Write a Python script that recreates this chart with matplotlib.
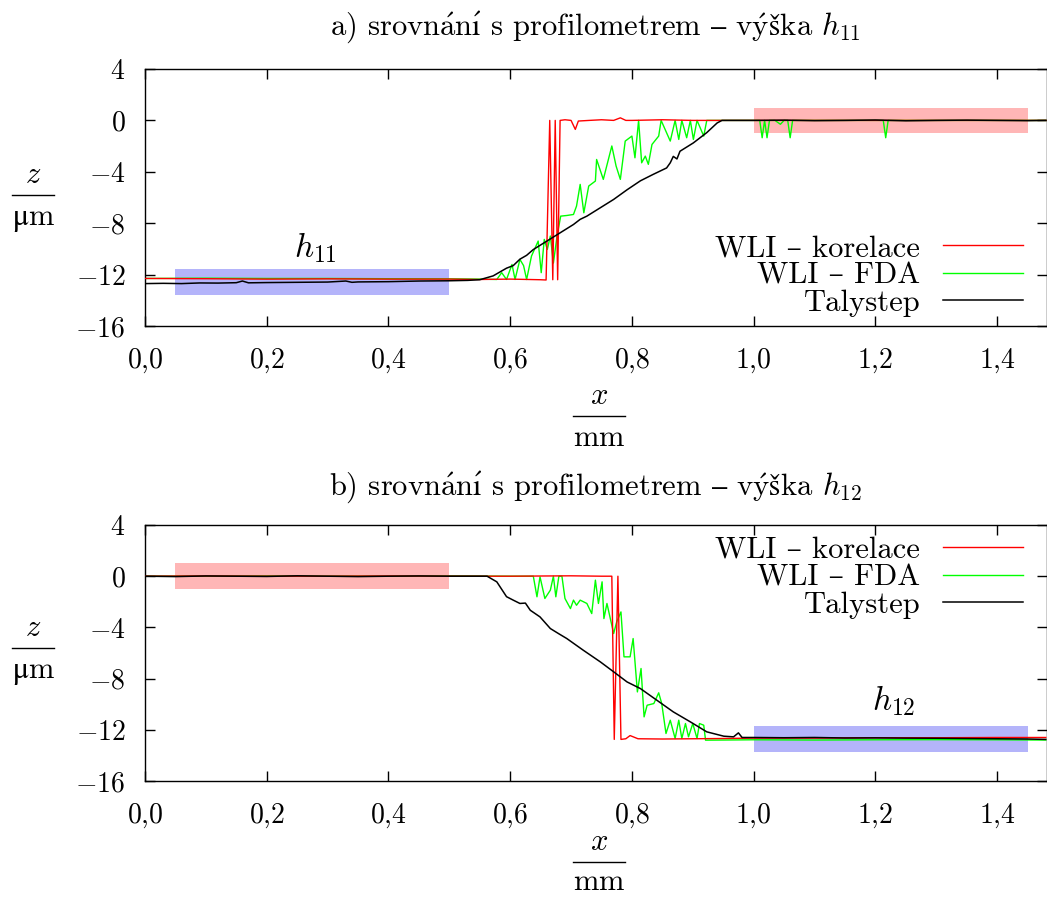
import numpy as np
import matplotlib
matplotlib.use('Agg')
import matplotlib.pyplot as plt
from matplotlib.lines import Line2D

plt.rcParams['font.family'] = ['cmr10', 'DejaVu Serif']
plt.rcParams['mathtext.fontset'] = 'cm'
plt.rcParams['axes.unicode_minus'] = False

# ---- data, a) vyska h11 ----
xa_taly = [0.0, 0.03, 0.06, 0.09, 0.12, 0.15, 0.16, 0.17, 0.2, 0.25, 0.3, 0.33, 0.34, 0.35,
           0.4, 0.45, 0.5, 0.53, 0.55, 0.572, 0.594, 0.605, 0.616, 0.627, 0.638, 0.66, 0.682,
           0.704, 0.715, 0.726, 0.748, 0.77, 0.792, 0.814, 0.835, 0.857, 0.863, 0.868, 0.874,
           0.879, 0.901, 0.923, 0.94, 0.948, 1.0, 1.05, 1.1, 1.15, 1.2, 1.25, 1.3, 1.35, 1.4,
           1.45, 1.48]
za_taly = [-12.7, -12.68, -12.7, -12.65, -12.66, -12.63, -12.5, -12.64, -12.62, -12.6, -12.58,
           -12.5, -12.6, -12.57, -12.55, -12.5, -12.48, -12.45, -12.4, -12.1, -11.5, -11.3,
           -10.8, -10.5, -10.05, -9.4, -8.75, -8.1, -7.7, -7.45, -6.8, -6.15, -5.4, -4.7, -4.2,
           -3.7, -3.3, -2.8, -3.0, -2.4, -1.75, -0.95, -0.2, 0.0, 0.0, 0.02, -0.02, 0.0, 0.03,
           -0.03, 0.0, 0.02, 0.0, -0.02, 0.0]

xa_kor = [0.0, 0.1, 0.2, 0.3, 0.4, 0.5, 0.55, 0.6, 0.65, 0.659, 0.665, 0.670, 0.674, 0.678,
          0.682, 0.69, 0.70, 0.707, 0.712, 0.73, 0.75, 0.77, 0.781, 0.79, 0.8, 0.85, 0.9, 0.95,
          1.0, 1.1, 1.2, 1.3, 1.4, 1.48]
za_kor = [-12.3, -12.32, -12.35, -12.33, -12.35, -12.35, -12.38, -12.35, -12.4, -12.42, 0.0,
          -12.4, 0.0, -12.4, 0.0, 0.05, 0.0, -0.7, -0.05, 0.0, 0.05, 0.0, 0.2, 0.0, 0.0, 0.05,
          0.0, 0.0, 0.0, 0.0, 0.0, 0.0, 0.0, 0.0]

xa_fda = [0.0, 0.1, 0.2, 0.3, 0.4, 0.5, 0.55, 0.578, 0.586, 0.594, 0.603, 0.608, 0.616, 0.622,
          0.627, 0.635, 0.646, 0.651, 0.656, 0.661, 0.666, 0.671, 0.677, 0.683, 0.693, 0.704,
          0.709, 0.715, 0.721, 0.729, 0.740, 0.742, 0.753, 0.767, 0.774, 0.781, 0.789, 0.800,
          0.805, 0.811, 0.816, 0.822, 0.827, 0.833, 0.844, 0.848, 0.863, 0.871, 0.877, 0.882,
          0.890, 0.896, 0.901, 0.907, 0.918, 0.923, 0.95, 1.0, 1.01, 1.014, 1.018, 1.022, 1.026,
          1.035, 1.044, 1.05, 1.056, 1.06, 1.064, 1.1, 1.15, 1.2, 1.213, 1.217, 1.221, 1.3,
          1.4, 1.48]
za_fda = [-12.3, -12.28, -12.3, -12.3, -12.32, -12.33, -12.35, -12.38, -11.85, -12.38, -11.21,
          -12.38, -10.82, -11.3, -12.38, -10.56, -9.39, -11.85, -9.26, -10.04, -9.0, -11.1,
          -9.0, -7.45, -7.4, -7.32, -6.67, -4.98, -7.19, -5.11, -4.72, -3.04, -4.59, -1.99,
          -3.55, -4.59, -1.61, -1.22, -2.91, 0.0, -3.3, -2.78, -3.42, -1.87, -1.22, 0.0, -1.61,
          0.0, -1.48, 0.0, -1.35, 0.0, -1.48, 0.0, -1.22, 0.0, 0.0, 0.0, 0.0, -1.35, 0.0, -1.35,
          0.0, 0.0, -0.3, 0.0, 0.0, -1.35, 0.0, 0.0, 0.0, 0.0, 0.0, -1.35, 0.0, 0.0, 0.0, 0.0]

# ---- data, b) vyska h12 ----
xb_taly = [0.0, 0.05, 0.1, 0.15, 0.2, 0.25, 0.3, 0.35, 0.4, 0.45, 0.5, 0.54, 0.562, 0.578,
           0.594, 0.605, 0.616, 0.625, 0.633, 0.649, 0.666, 0.68, 0.693, 0.72, 0.748, 0.77,
           0.792, 0.814, 0.841, 0.868, 0.896, 0.923, 0.951, 0.967, 0.975, 0.981, 1.0, 1.05,
           1.1, 1.15, 1.2, 1.25, 1.3, 1.35, 1.4, 1.45, 1.48]
zb_taly = [0.0, -0.03, 0.02, 0.0, -0.02, 0.03, 0.0, -0.03, 0.0, 0.02, 0.0, 0.0, 0.0, -0.44,
           -1.6, -1.87, -2.13, -2.1, -2.66, -3.18, -4.09, -4.5, -4.87, -5.78, -6.69, -7.47,
           -8.26, -8.78, -9.69, -10.6, -11.38, -12.16, -12.5, -12.55, -12.24, -12.6, -12.6,
           -12.62, -12.6, -12.64, -12.63, -12.65, -12.66, -12.68, -12.7, -12.72, -12.75]

xb_kor = [0.0, 0.1, 0.2, 0.3, 0.4, 0.5, 0.6, 0.7, 0.75, 0.767, 0.771, 0.777, 0.782, 0.79,
          0.797, 0.81, 0.85, 0.9, 0.95, 1.0, 1.1, 1.2, 1.3, 1.4, 1.48]
zb_kor = [0.0, 0.02, 0.0, 0.0, 0.02, 0.0, 0.0, 0.03, 0.0, 0.0, -12.75, 0.0, -12.75, -12.7,
          -12.45, -12.7, -12.72, -12.7, -12.68, -12.65, -12.65, -12.62, -12.62, -12.6, -12.6]

xb_fda = [0.0, 0.1, 0.2, 0.3, 0.4, 0.5, 0.6, 0.638, 0.644, 0.649, 0.657, 0.666, 0.671, 0.675,
          0.680, 0.685, 0.690, 0.699, 0.704, 0.709, 0.715, 0.726, 0.734, 0.740, 0.745, 0.751,
          0.754, 0.759, 0.770, 0.775, 0.782, 0.787, 0.797, 0.802, 0.809, 0.815, 0.820, 0.825,
          0.836, 0.844, 0.849, 0.856, 0.863, 0.871, 0.877, 0.882, 0.888, 0.893, 0.900, 0.907,
          0.911, 0.918, 0.921, 0.95, 1.0, 1.1, 1.2, 1.3, 1.4, 1.48]
zb_fda = [0.0, 0.0, 0.02, 0.0, 0.0, 0.02, 0.0, 0.0, -1.61, -0.05, -1.74, -1.09, 0.0, -1.61,
          0.0, 0.0, -1.74, -2.53, -1.87, -2.27, -1.87, -2.13, -2.92, -0.31, -2.13, -0.44, -3.31,
          -2.13, -4.48, -3.57, -2.79, -6.3, -6.3, -4.87, -9.04, -7.21, -10.99, -10.08, -9.95,
          -9.11, -9.95, -12.29, -11.25, -12.68, -11.25, -12.68, -11.51, -12.55, -11.51, -12.68,
          -11.51, -11.64, -12.81, -12.8, -12.78, -12.8, -12.78, -12.77, -12.78, -12.8]

# vyznacene oblasti: (x0, x1, stred z, barva)
boxes_a = [(0.05, 0.5, -12.6, '#b4b4fa'), (1.0, 1.45, 0.0, '#ffb6b6')]
boxes_b = [(0.05, 0.5, 0.0, '#ffb6b6'), (1.0, 1.45, -12.7, '#b4b4fa')]

xticks = [0.0, 0.2, 0.4, 0.6, 0.8, 1.0, 1.2, 1.4]
xtick_labels = ['$0{,}0$', '$0{,}2$', '$0{,}4$', '$0{,}6$', '$0{,}8$', '$1{,}0$', '$1{,}2$', '$1{,}4$']
yticks = [-16, -12, -8, -4, 0, 4]
ytick_labels = ['$-16$', '$-12$', '$-8$', '$-4$', '$0$', '$4$']

# cmr10 nema ceske znaky -> akcenty pres mathtext
title_a = r'a) srovn$\mathrm{\acute{a}n\acute{ı}}$ s profilometrem $\mathrm{–}$ v$\mathrm{\acute{y}}$$\mathrm{š}$ka $h_{11}$'
title_b = r'b) srovn$\mathrm{\acute{a}n\acute{ı}}$ s profilometrem $\mathrm{–}$ v$\mathrm{\acute{y}}$$\mathrm{š}$ka $h_{12}$'

fs = 22
fs_tick = 20
W, H = 1047, 899


def panel(ax, data, boxes, hlabel, hpos, legpos):
    for x0, x1, zc, col in boxes:
        ax.fill_between([x0, x1], zc - 1, zc + 1, color=col, lw=0, zorder=1)
    (xk, zk), (xf, zf), (xt, zt) = data
    ax.plot(xk, zk, color='#ff0000', lw=1, label='WLI – korelace', zorder=3)
    ax.plot(xf, zf, color='#00ff00', lw=1, label='WLI – FDA', zorder=2)
    ax.plot(xt, zt, color='black', lw=1.1, label='Talystep', zorder=4)
    ax.text(hpos[0], hpos[1], hlabel, fontsize=24, ha='center', va='center')
    ax.set_xlim(0, 1.482)
    ax.set_ylim(-16, 4)
    ax.set_xticks(xticks)
    ax.set_xticklabels(xtick_labels, fontsize=fs_tick)
    ax.set_yticks(yticks)
    ax.set_yticklabels(ytick_labels, fontsize=fs_tick)
    ax.tick_params(direction='in', length=7, width=1, top=True, right=True)
    ax.tick_params(axis='x', pad=15)
    ax.tick_params(axis='y', pad=14)
    for s in ax.spines.values():
        s.set_linewidth(1)
    ax.legend(loc='upper right', bbox_to_anchor=legpos, frameon=False, markerfirst=False,
              fontsize=fs, handlelength=2.6, labelspacing=0.0, borderpad=0, handletextpad=0.75)


def zlomek(fig, cx, ly, top, bottom, half, gap=30):
    # popisek osy ve tvaru zlomku veliciny a jednotky (pozice v pixelech)
    fig.text(cx / W, 1 - (ly - 12) / H, top, fontsize=fs, ha='center', va='baseline')
    fig.add_artist(Line2D([(cx - half) / W, (cx + half) / W], [1 - ly / H, 1 - ly / H],
                          color='black', lw=1.0))
    fig.text(cx / W, 1 - (ly + gap) / H, bottom, fontsize=fs, ha='center', va='baseline')


fig = plt.figure(figsize=(10.47, 8.99), dpi=100)
ax1 = fig.add_axes([145 / W, 1 - 326 / H, 902 / W, 257 / H])
ax2 = fig.add_axes([145 / W, 1 - 781 / H, 902 / W, 256 / H])

panel(ax1, [(xa_kor, za_kor), (xa_fda, za_fda), (xa_taly, za_taly)], boxes_a,
      '$h_{11}$', (0.28, -9.9), (0.99, 0.415))
panel(ax2, [(xb_kor, zb_kor), (xb_fda, zb_fda), (xb_taly, zb_taly)], boxes_b,
      '$h_{12}$', (1.23, -9.7), (0.99, 1.015))

fig.text(0.569, 1 - 28 / H, title_a, fontsize=fs, ha='center', va='center')
fig.text(0.569, 1 - 488 / H, title_b, fontsize=fs, ha='center', va='center')

zlomek(fig, 33, 195, '$z$', r'$\mathrm{μm}$', 21)
zlomek(fig, 33, 648, '$z$', r'$\mathrm{μm}$', 21)
zlomek(fig, 599, 416, '$x$', r'$\mathrm{mm}$', 26)
zlomek(fig, 599, 862, '$x$', r'$\mathrm{mm}$', 26, gap=28)

fig.savefig('out.png', dpi=100)
